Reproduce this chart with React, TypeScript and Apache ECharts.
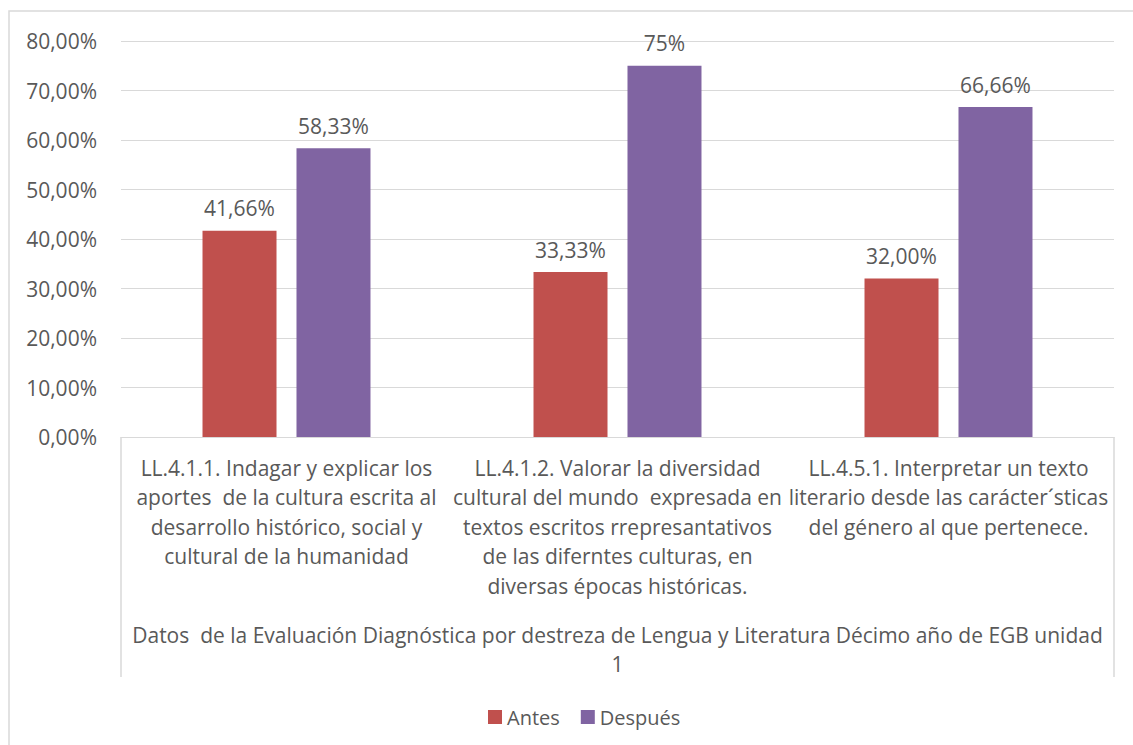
import React, { useEffect, useRef } from "react";
import * as echarts from "echarts";

const categories = [
  "LL.4.1.1. Indagar y explicar los\naportes  de la cultura escrita al\ndesarrollo histórico, social y\ncultural de la humanidad",
  "LL.4.1.2. Valorar la diversidad\ncultural del mundo  expresada en\ntextos escritos rrepresantativos\nde las diferntes culturas, en\ndiversas épocas históricas.",
  "LL.4.5.1. Interpretar un texto\nliterario desde las carácter´sticas\ndel género al que pertenece.",
];
const antes = [41.66, 33.33, 32.0];
const despues = [58.33, 75, 66.66];
const antesLabels = ["41,66%", "33,33%", "32,00%"];
const despuesLabels = ["58,33%", "75%", "66,66%"];
const axisTitle =
  "Datos  de la Evaluación Diagnóstica por destreza de Lengua y Literatura Décimo año de EGB unidad\n1";

export default function App() {
  const ref = useRef<HTMLDivElement>(null);
  useEffect(() => {
    if (!ref.current) return;
    const chart = echarts.init(ref.current, null, { renderer: "svg" });
    const font = "'Open Sans', sans-serif";
    const txt = "#595959";
    const gl = 121, gr = 1114, gt = 41, gb = 437;
    chart.setOption({
      animation: false,
      textStyle: { fontFamily: font },
      grid: { left: gl, right: 1133 - gr, top: gt, bottom: 745 - gb },
      legend: {
        left: 483,
        top: 702,
        itemWidth: 14,
        itemHeight: 14,
        itemGap: 21,
        icon: "rect",
        textStyle: { color: txt, fontSize: 20, fontFamily: font },
        data: ["Antes", "Después"],
      },
      xAxis: {
        type: "category",
        data: categories,
        axisLine: { lineStyle: { color: "#D9D9D9" } },
        axisTick: { show: false },
        axisLabel: {
          interval: 0,
          color: txt,
          fontSize: 21,
          lineHeight: 29.5,
          margin: 16,
          fontFamily: font,
        },
        name: axisTitle,
        nameLocation: "middle",
        nameGap: 183,
        nameTextStyle: { color: txt, fontSize: 21, lineHeight: 29, fontFamily: font, verticalAlign: "top" },
      },
      yAxis: {
        type: "value",
        min: 0,
        max: 80,
        interval: 10,
        axisLabel: {
          color: txt,
          fontSize: 21,
          margin: 24,
          fontFamily: font,
          formatter: (v: number) => v.toFixed(2).replace(".", ",") + "%",
        },
        splitLine: { lineStyle: { color: "#D9D9D9" } },
        axisLine: { show: false },
        axisTick: { show: false },
      },
      series: [
        {
          name: "Antes",
          type: "bar",
          data: antes,
          barWidth: 74,
          barGap: "27%",
          itemStyle: { color: "#C0504D" },
          label: {
            show: true,
            position: "top",
            distance: 12,
            color: txt,
            fontSize: 21,
            fontFamily: font,
            formatter: (p: any) => antesLabels[p.dataIndex],
          },
        },
        {
          name: "Después",
          type: "bar",
          data: despues,
          barWidth: 74,
          barGap: "27%",
          itemStyle: { color: "#8064A2" },
          label: {
            show: true,
            position: "top",
            distance: 12,
            color: txt,
            fontSize: 21,
            fontFamily: font,
            formatter: (p: any) => despuesLabels[p.dataIndex],
          },
        },
      ],
      graphic: [
        {
          type: "rect",
          shape: { x: 9, y: 11, width: 1140, height: 750 },
          style: { fill: "none", stroke: "#D9D9D9", lineWidth: 1.5 },
          silent: true,
          z: -1,
        },
        {
          type: "line",
          shape: { x1: gl, y1: gb, x2: gl, y2: 677 },
          style: { stroke: "#D9D9D9", lineWidth: 1.5 },
        },
        {
          type: "line",
          shape: { x1: gr, y1: gb, x2: gr, y2: 677 },
          style: { stroke: "#D9D9D9", lineWidth: 1.5 },
        },
      ],
    });
    return () => chart.dispose();
  }, []);
  return (
    <div
      ref={ref}
      style={{ position: "fixed", left: 0, top: 0, width: 1133, height: 745, background: "#fff" }}
    />
  );
}
